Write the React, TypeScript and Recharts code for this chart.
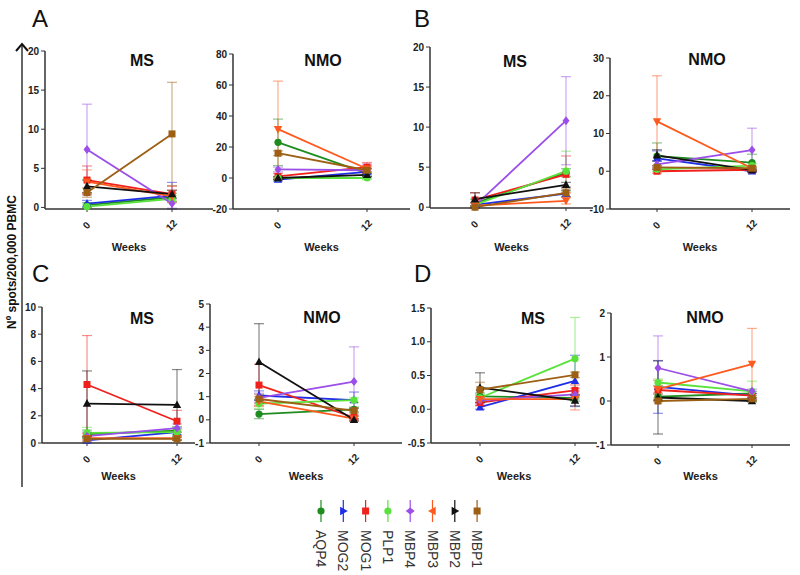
import { LineChart, Line, XAxis, YAxis, ErrorBar } from 'recharts';

const SERIES = ['AQP4', 'MOG2', 'MOG1', 'PLP1', 'MBP4', 'MBP3', 'MBP2', 'MBP1'];
const COLORS = ['#1e8c1e', '#1f2ee6', '#f0201c', '#5ae23c', '#9b4ee8', '#ff5a1e', '#111111', '#9c5f14'];
const SHAPES = ['circle', 'triUp', 'square', 'circle', 'diamond', 'triDown', 'triUp', 'square'];
const WEEKS = [0, 12];

// values per series, same order as SERIES
const A_MS_0 = [0.3, 0.5, 3.5, 0.1, 7.4, 3.3, 2.7, 1.9];
const A_MS_12 = [1.3, 1.5, 1.7, 1.1, 0.5, 1.4, 1.7, 9.4];
const A_MS_ERR_0 = [0.3, 0.4, 1.8, 0.2, 5.8, 1.5, 0.8, 0.6];
const A_MS_ERR_12 = [0.5, 1.7, 1.0, 0.4, 0.6, 0.8, 0.5, 6.6];

const A_NMO_0 = [23, -1, 1, 0, 5.5, 31.5, 0, 16];
const A_NMO_12 = [3, 4, 7, 0, 5, 6, 2, 5];
const A_NMO_ERR_0 = [15, 1, 2, 0.5, 1.5, 31, 1, 1.5];
const A_NMO_ERR_12 = [3, 2, 3, 1, 4, 2, 1, 2];

const B_MS_0 = [0.5, 0.3, 0.9, 0.3, 0.2, 0.2, 1.0, 0.0];
const B_MS_12 = [4.3, 1.7, 4.1, 4.5, 10.8, 0.8, 2.8, 1.8];
const B_MS_ERR_0 = [0.5, 0.3, 0.9, 0.3, 0.3, 0.3, 0.8, 0.1];
const B_MS_ERR_12 = [0.5, 0.4, 2.3, 2.5, 5.5, 0.4, 0.3, 0.5];

const B_NMO_0 = [4.0, 3.4, 0.0, 0.5, 1.8, 13.2, 4.2, 1.0];
const B_NMO_12 = [2.3, 0.0, 0.4, 1.5, 5.6, 0.8, 0.3, 0.8];
const B_NMO_ERR_0 = [3.5, 2.0, 0.5, 0.5, 1.0, 12.1, 1.5, 0.5];
const B_NMO_ERR_12 = [2.2, 0.3, 0.5, 0.5, 5.8, 0.5, 0.3, 0.4];

const C_MS_0 = [0.65, 0.2, 4.3, 0.75, 0.5, 0.35, 2.9, 0.3];
const C_MS_12 = [0.9, 0.8, 1.6, 0.8, 1.1, 0.35, 2.8, 0.3];
const C_MS_ERR_0 = [0.3, 0.2, 3.6, 0.4, 0.3, 0.1, 2.4, 0.2];
const C_MS_ERR_12 = [0.3, 0.3, 0.8, 0.2, 0.3, 0.1, 2.6, 0.1];

const C_NMO_0 = [0.25, 1.05, 1.5, 0.7, 0.95, 0.8, 2.5, 0.9];
const C_NMO_12 = [0.45, 0.85, 0.1, 0.85, 1.65, 0.05, 0.0, 0.4];
const C_NMO_ERR_0 = [0.2, 0.2, 0.9, 0.2, 0.2, 0.2, 1.65, 0.2];
const C_NMO_ERR_12 = [0.1, 0.35, 0.1, 0.1, 1.5, 0.1, 0.05, 0.1];

const D_MS_0 = [0.19, 0.03, 0.1, 0.17, 0.13, 0.15, 0.32, 0.29];
const D_MS_12 = [0.17, 0.42, 0.28, 0.75, 0.22, 0.15, 0.13, 0.51];
const D_MS_ERR_0 = [0.05, 0.03, 0.05, 0.05, 0.04, 0.05, 0.22, 0.11];
const D_MS_ERR_12 = [0.05, 0.38, 0.08, 0.61, 0.05, 0.16, 0.08, 0.04];

const D_NMO_0 = [0.1, 0.32, 0.25, 0.42, 0.75, 0.27, 0.08, 0.0];
const D_NMO_12 = [0.17, 0.12, 0.12, 0.22, 0.22, 0.84, 0.0, 0.05];
const D_NMO_ERR_0 = [0.08, 0.6, 0.1, 0.08, 0.73, 0.2, 0.83, 0.02];
const D_NMO_ERR_12 = [0.05, 0.05, 0.05, 0.23, 0.05, 0.81, 0.02, 0.03];

const TICKS_20 = [0, 5, 10, 15, 20];
const TICKS_A_NMO = [-20, 0, 20, 40, 60, 80];
const TICKS_B_NMO = [-10, 0, 10, 20, 30];
const TICKS_C_MS = [0, 2, 4, 6, 8, 10];
const TICKS_C_NMO = [-1, 0, 1, 2, 3, 4, 5];
const TICKS_D_MS = [-0.5, 0, 0.5, 1, 1.5];
const TICKS_D_NMO = [-1, 0, 1, 2];

const PANELS = [
  { id: 'a-ms', title: 'MS', w0: A_MS_0, w12: A_MS_12, e0: A_MS_ERR_0, e12: A_MS_ERR_12, ticks: TICKS_20, dec: 0, axisX: 45, right: 213, top: 51, bottom: 209, x0: 87, x12: 172, tx: 142, ty: 60, wy: 247 },
  { id: 'a-nmo', title: 'NMO', w0: A_NMO_0, w12: A_NMO_12, e0: A_NMO_ERR_0, e12: A_NMO_ERR_12, ticks: TICKS_A_NMO, dec: 0, axisX: 233, right: 410, top: 54, bottom: 209, x0: 278, x12: 367, tx: 323, ty: 60, wy: 247 },
  { id: 'b-ms', title: 'MS', w0: B_MS_0, w12: B_MS_12, e0: B_MS_ERR_0, e12: B_MS_ERR_12, ticks: TICKS_20, dec: 0, axisX: 430, right: 593, top: 47, bottom: 208, x0: 475, x12: 566, tx: 515, ty: 61, wy: 247 },
  { id: 'b-nmo', title: 'NMO', w0: B_NMO_0, w12: B_NMO_12, e0: B_NMO_ERR_0, e12: B_NMO_ERR_12, ticks: TICKS_B_NMO, dec: 0, axisX: 610, right: 790, top: 58, bottom: 209, x0: 657, x12: 752, tx: 707, ty: 59, wy: 247 },
  { id: 'c-ms', title: 'MS', w0: C_MS_0, w12: C_MS_12, e0: C_MS_ERR_0, e12: C_MS_ERR_12, ticks: TICKS_C_MS, dec: 0, axisX: 42, right: 195, top: 307, bottom: 443, x0: 87, x12: 177, tx: 142, ty: 318, wy: 476 },
  { id: 'c-nmo', title: 'NMO', w0: C_NMO_0, w12: C_NMO_12, e0: C_NMO_ERR_0, e12: C_NMO_ERR_12, ticks: TICKS_C_NMO, dec: 0, axisX: 210, right: 402, top: 304, bottom: 443, x0: 259, x12: 354, tx: 322, ty: 317, wy: 476 },
  { id: 'd-ms', title: 'MS', w0: D_MS_0, w12: D_MS_12, e0: D_MS_ERR_0, e12: D_MS_ERR_12, ticks: TICKS_D_MS, dec: 1, axisX: 431, right: 597, top: 308, bottom: 443, x0: 480, x12: 575, tx: 533, ty: 318, wy: 476 },
  { id: 'd-nmo', title: 'NMO', w0: D_NMO_0, w12: D_NMO_12, e0: D_NMO_ERR_0, e12: D_NMO_ERR_12, ticks: TICKS_D_NMO, dec: 0, axisX: 611, right: 790, top: 313, bottom: 445, x0: 658, x12: 752, tx: 705, ty: 317, wy: 476 },
];

const LETTERS = [
  { t: 'A', x: 32, y: 27 },
  { t: 'B', x: 414, y: 27 },
  { t: 'C', x: 32, y: 282 },
  { t: 'D', x: 414, y: 282 },
];

const FONT = '"Liberation Sans Narrow", "Liberation Sans", Arial, sans-serif';
const SANS = '"Liberation Sans", Arial, sans-serif';
const AXIS = '#333';
const YW = 30;
const MT = 6;
const XH = 28;

function Marker({ shape, x, y, color }: { shape: string; x: number; y: number; color: string }) {
  if (shape === 'circle') return <circle cx={x} cy={y} r={3.6} fill={color} />;
  if (shape === 'square') return <rect x={x - 3.5} y={y - 3.5} width={7} height={7} fill={color} />;
  if (shape === 'diamond') return <path d={`M${x},${y - 4.5}L${x + 3.5},${y}L${x},${y + 4.5}L${x - 3.5},${y}Z`} fill={color} />;
  if (shape === 'triUp') return <path d={`M${x},${y - 4.5}L${x + 4.2},${y + 3.2}L${x - 4.2},${y + 3.2}Z`} fill={color} />;
  if (shape === 'triDown') return <path d={`M${x},${y + 4.5}L${x + 4.2},${y - 3.2}L${x - 4.2},${y - 3.2}Z`} fill={color} />;
  return null;
}

function XTick(props: any) {
  const { x, y, payload } = props;
  return (
    <text
      transform={`translate(${x},${y + 12}) rotate(-45)`}
      textAnchor="middle"
      dominantBaseline="middle"
      fontSize={10}
      fontWeight="bold"
      fontFamily={FONT}
      fill="#222"
    >
      {payload.value}
    </text>
  );
}

function Panel({ p }: { p: (typeof PANELS)[number] }) {
  const rows = WEEKS.map((w, wi) => {
    const r: Record<string, number> = { week: w };
    SERIES.forEach((s, i) => {
      r[s] = (wi ? p.w12 : p.w0)[i];
      r[s + '_err'] = (wi ? p.e12 : p.e0)[i];
    });
    return r;
  });
  const ppu = (p.x12 - p.x0) / 12;
  const lo = -(p.x0 - p.axisX) / ppu;
  const hi = 12 + (p.right - p.x12) / ppu;
  const w = YW + (p.right - p.axisX);
  const h = MT + (p.bottom - p.top) + XH;
  const yMin = p.ticks[0];
  const yMax = p.ticks[p.ticks.length - 1];

  return (
    <div style={{ position: 'absolute', left: p.axisX - YW, top: p.top - MT }}>
      <LineChart width={w} height={h} data={rows} margin={{ top: MT, right: 0, bottom: 0, left: 0 }}>
        <XAxis
          type="number"
          dataKey="week"
          domain={[lo, hi]}
          ticks={WEEKS}
          height={XH}
          tick={<XTick />}
          tickSize={3}
          axisLine={{ stroke: AXIS, strokeWidth: 1.5 }}
          tickLine={{ stroke: AXIS }}
        />
        <YAxis
          type="number"
          domain={[yMin, yMax]}
          ticks={p.ticks}
          width={YW}
          tickSize={4}
          tickFormatter={(v: number) => v.toFixed(p.dec)}
          tick={{ fontSize: 10, fontWeight: 'bold', fontFamily: FONT, fill: '#222' }}
          axisLine={{ stroke: AXIS, strokeWidth: 1.5 }}
          tickLine={{ stroke: AXIS }}
        />
        {SERIES.map((s, i) => (
          <Line
            key={s}
            dataKey={s}
            stroke={COLORS[i]}
            strokeWidth={1.8}
            isAnimationActive={false}
            dot={(d: any) => (
              <Marker key={`${s}-${d.index}`} shape={SHAPES[i]} x={d.cx} y={d.cy} color={COLORS[i]} />
            )}
            activeDot={false}
          >
            <ErrorBar dataKey={s + '_err'} width={5} stroke={COLORS[i]} strokeOpacity={0.5} strokeWidth={1.2} direction="y" />
          </Line>
        ))}
      </LineChart>
    </div>
  );
}

export default function App() {
  return (
    <div style={{ position: 'absolute', left: 0, top: 0, width: 800, height: 575, background: '#fff', overflow: 'hidden' }}>
      <svg width={800} height={575} style={{ position: 'absolute', left: 0, top: 0 }}>
        <line x1={22} y1={44} x2={22} y2={487} stroke={AXIS} strokeWidth={1.5} />
        <path d="M16,51 L22,44 L28,51" fill="none" stroke="#111" strokeWidth={2} />
        <text
          transform="translate(16,262) rotate(-90)"
          textAnchor="middle"
          fontSize={12}
          fontWeight="bold"
          fontFamily={SANS}
          fill="#111"
        >
          Nº spots/200,000 PBMC
        </text>
        {LETTERS.map((l) => (
          <text key={l.t} x={l.x} y={l.y} fontSize={24} fontFamily={SANS} fill="#111">
            {l.t}
          </text>
        ))}
        {PANELS.map((p) => (
          <g key={p.id}>
            <text x={p.tx} y={p.ty} textAnchor="middle" dominantBaseline="central" fontSize={16} fontWeight="bold" fontFamily={SANS} fill="#111">
              {p.title}
            </text>
            <text x={(p.axisX + p.right) / 2} y={p.wy} textAnchor="middle" dominantBaseline="central" fontSize={11} fontWeight="bold" fontFamily={FONT} fill="#222">
              Weeks
            </text>
          </g>
        ))}
        {SERIES.map((s, i) => {
          const x = 321 + i * 22.3;
          return (
            <g key={s}>
              <line x1={x} y1={500} x2={x} y2={522} stroke={COLORS[i]} strokeWidth={1.2} />
              <g transform={`rotate(90 ${x} 511)`}>
                <Marker shape={SHAPES[i]} x={x} y={511} color={COLORS[i]} />
              </g>
              <text transform={`translate(${x - 5},530) rotate(90)`} fontSize={14} fontFamily={SANS} fill="#333">
                {s}
              </text>
            </g>
          );
        })}
      </svg>
      {PANELS.map((p) => (
        <Panel key={p.id} p={p} />
      ))}
    </div>
  );
}
